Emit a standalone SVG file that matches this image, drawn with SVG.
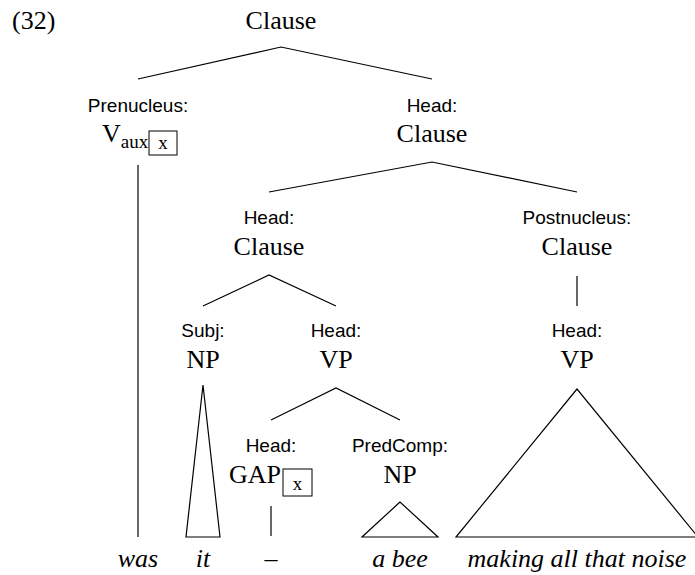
<svg xmlns="http://www.w3.org/2000/svg" width="695" height="575" viewBox="0 0 695 575">
  <style>
    .cat { font-family: "Liberation Serif", "Times New Roman", serif; font-size: 26px; fill: #000; text-anchor: middle; }
    .fn { font-family: "Liberation Sans", Arial, sans-serif; font-size: 19px; fill: #000; text-anchor: middle; }
    .word { font-family: "Liberation Serif", "Times New Roman", serif; font-size: 26px; font-style: italic; fill: #000; text-anchor: middle; }
    .sub { font-family: "Liberation Serif", "Times New Roman", serif; font-size: 19px; fill: #000; }
    .idx { font-family: "Liberation Serif", "Times New Roman", serif; font-size: 19px; fill: #000; text-anchor: middle; }
    .box { fill: #fff; stroke: #000; stroke-width: 1; }
    .edge { stroke: #000; stroke-width: 1.2; fill: none; }
    .tri { stroke: #000; stroke-width: 1.2; fill: #fff; stroke-linejoin: miter; }
  </style>

  <!-- example number -->
  <text x="12" y="29" class="cat" style="text-anchor:start">(32)</text>

  <!-- tree nodes -->
  <g id="root">
    <text x="281" y="29" class="cat">Clause</text>
  </g>

  <g id="prenucleus">
    <text x="138" y="112" class="fn">Prenucleus:</text>
    <text x="102" y="142" class="cat" style="text-anchor:start">V<tspan class="sub" dy="6">aux</tspan></text>
    <rect x="149" y="131" width="28" height="24" class="box"/>
    <text x="163" y="149" class="idx">x</text>
  </g>

  <g id="head-clause-1">
    <text x="432" y="112" class="fn">Head:</text>
    <text x="432" y="142" class="cat">Clause</text>
  </g>

  <g id="head-clause-2">
    <text x="269" y="224" class="fn">Head:</text>
    <text x="269" y="255" class="cat">Clause</text>
  </g>

  <g id="postnucleus">
    <text x="577" y="224" class="fn">Postnucleus:</text>
    <text x="577" y="255" class="cat">Clause</text>
  </g>

  <g id="subj-np">
    <text x="203" y="337" class="fn">Subj:</text>
    <text x="203" y="368" class="cat">NP</text>
  </g>

  <g id="head-vp">
    <text x="336" y="337" class="fn">Head:</text>
    <text x="336" y="368" class="cat">VP</text>
  </g>

  <g id="post-head-vp">
    <text x="577" y="337" class="fn">Head:</text>
    <text x="577" y="368" class="cat">VP</text>
  </g>

  <g id="head-gap">
    <text x="271" y="452" class="fn">Head:</text>
    <text x="281" y="483" class="cat" style="text-anchor:end">GAP</text>
    <rect x="283" y="469" width="29" height="27" class="box"/>
    <text x="297.5" y="490" class="idx">x</text>
  </g>

  <g id="predcomp-np">
    <text x="400" y="452" class="fn">PredComp:</text>
    <text x="400" y="483" class="cat">NP</text>
  </g>

  <!-- terminal words -->
  <g id="words">
    <text x="138" y="567" class="word">was</text>
    <text x="203" y="567" class="word">it</text>
    <text x="271" y="567" class="word">–</text>
    <text x="400" y="567" class="word">a bee</text>
    <text x="577" y="567" class="word">making all that noise</text>
  </g>

  <!-- branches and roofs -->
  <g id="connectors">
    <polyline class="edge" points="138,79 281,47 432,79"/>
    <line class="edge" x1="138" y1="165" x2="138" y2="537"/>
    <polyline class="edge" points="269,192 432,162 577,192"/>
    <polyline class="edge" points="203,306 269,275 336,306"/>
    <line class="edge" x1="577" y1="276" x2="577" y2="306"/>
    <polygon class="tri" points="203,385 186,537 220,537"/>
    <polyline class="edge" points="271,420 336,388 400,420"/>
    <polygon class="tri" points="577,389 456,537 698,537"/>
    <line class="edge" x1="271" y1="506" x2="271" y2="536"/>
    <polygon class="tri" points="400,502 362,537 438,537"/>
  </g>
</svg>
